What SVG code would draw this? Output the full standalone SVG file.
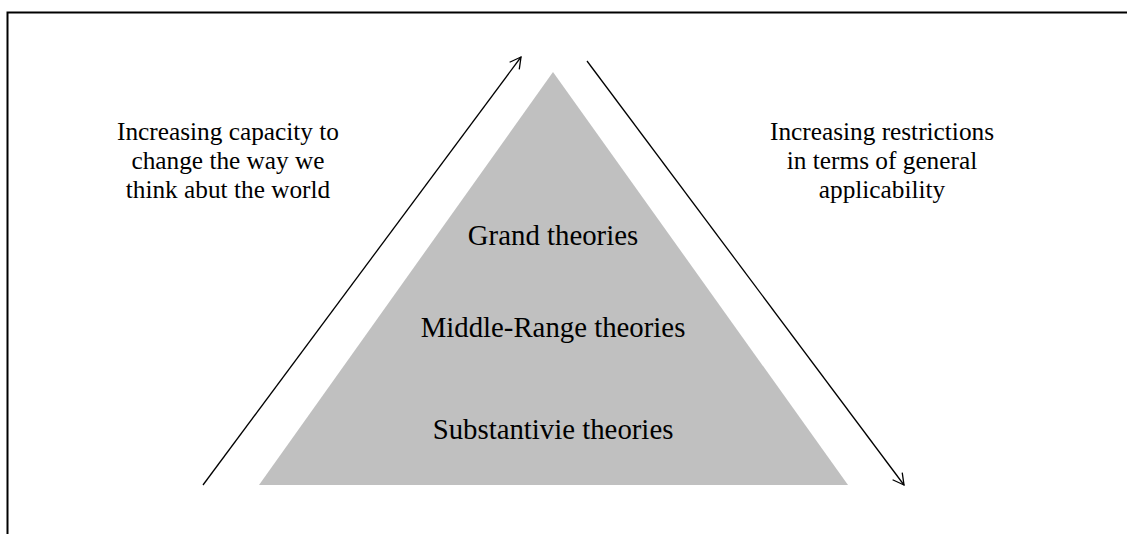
<svg xmlns="http://www.w3.org/2000/svg" width="1127" height="534" viewBox="0 0 1127 534">
<style>
text{font-family:"Liberation Serif","Times New Roman",serif;fill:#000;text-anchor:middle}
.side{font-size:25.3px}
.lvl{font-size:28.8px}
.arr{stroke:#000;stroke-width:1.3;fill:none}
</style>
<defs>
<marker id="ah" markerWidth="14" markerHeight="14" refX="12" refY="7" orient="auto" markerUnits="userSpaceOnUse">
<path d="M1,1 L12,7 L1,13" fill="none" stroke="#000" stroke-width="1.3"/>
</marker>
</defs>
<rect width="1127" height="534" fill="#fff"/>
<path d="M7.5,540 L7.5,12.5 L1130,12.5" fill="none" stroke="#000" stroke-width="2"/>
<g id="pyramid">
<polygon points="553,72 848,485 259,485" fill="#c0c0c0"/>
<text class="lvl" x="553" y="245">Grand theories</text>
<text class="lvl" x="553" y="337">Middle-Range theories</text>
<text class="lvl" x="553" y="439">Substantivie theories</text>
</g>
<g id="connectors">
<line class="arr" x1="203" y1="485" x2="521" y2="57" marker-end="url(#ah)"/>
<line class="arr" x1="587" y1="61" x2="904" y2="485" marker-end="url(#ah)"/>
</g>
<g id="left-label">
<text class="side" x="228" y="140">Increasing capacity to</text>
<text class="side" x="228" y="169">change the way we</text>
<text class="side" x="228" y="198">think abut the world</text>
</g>
<g id="right-label">
<text class="side" x="882" y="140">Increasing restrictions</text>
<text class="side" x="882" y="169">in terms of general</text>
<text class="side" x="882" y="198">applicability</text>
</g>
</svg>
